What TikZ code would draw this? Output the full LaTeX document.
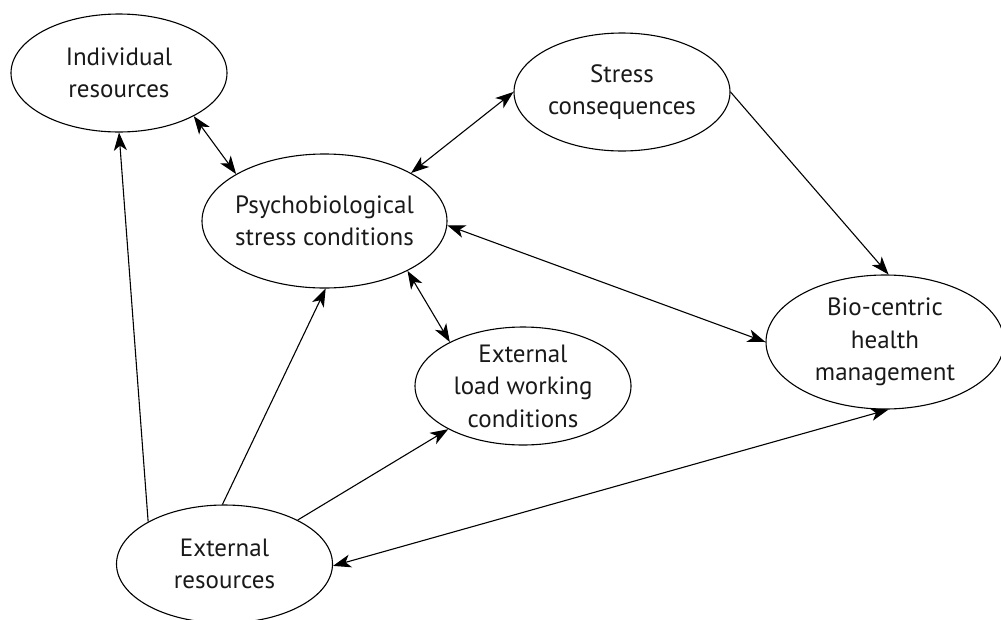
\documentclass[tikz,border=0pt]{standalone}
\usepackage{fontspec}
\setmainfont{PT Sans}
\usetikzlibrary{shapes.geometric,arrows.meta}
\begin{document}
\begin{tikzpicture}[x=1pt,y=-1pt,
  ell/.style={draw, ellipse, line width=1.1pt, inner sep=-40pt, align=center,
    text=black!90, font=\fontsize{25}{32.5}\selectfont,
    minimum width=216pt, minimum height=118pt},
  bigell/.style={minimum width=245pt, minimum height=134pt},
  conn/.style={line width=1.1pt, -{Stealth[length=18pt,width=13pt,inset=5pt]}},
  bi/.style={line width=1.1pt, {Stealth[length=18pt,width=13pt,inset=5pt]}-{Stealth[length=18pt,width=13pt,inset=5pt]}}
]
\useasboundingbox (0,0) rectangle (1001,619);
\node[ell] (ind) at (119,73) {Individual\\resources};
\node[ell] (stress) at (622,92) {Stress\\consequences};
\node[ell, bigell] (psy) at (324.5,221) {Psychobiological\\stress conditions};
\node[ell] (load) at (523,386) {External\\load working\\conditions};
\node[ell, bigell, minimum width=238pt] (bio) at (885,342) {Bio-centric\\health\\management};
\node[ell] (ext) at (224.5,564) {External\\resources};

\draw[conn] (ext.151) -- (ind.270);
\draw[conn] (ext.92) -- (psy.271);
\draw[conn] (ext.31) -- (load.210);
\draw[bi] (ext.359) -- (bio.273);
\draw[bi] (ind.330) -- (psy.152);
\draw[bi] (psy.29) -- (stress.180);
\draw[bi] (psy.358) -- (bio.180);
\draw[bi] (psy.329) -- (load.149);
\draw[conn] (stress.0) -- (bio.87);
\end{tikzpicture}
\end{document}
